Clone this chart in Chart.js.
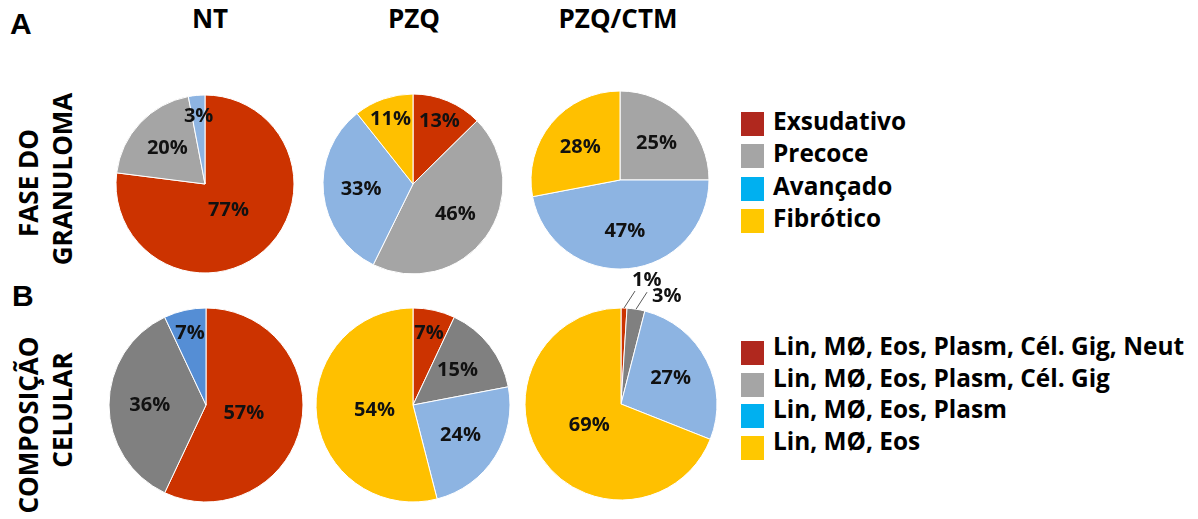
<!DOCTYPE html>
<html>
<head>
<meta charset="utf-8">
<script src="https://cdn.jsdelivr.net/npm/chart.js@4"></script>
<style>
    body { margin: 0; background: #fff; }
    #fig { position: relative; width: 1198px; height: 519px; overflow: hidden; font-family: "Open Sans", sans-serif; color: #000; }
    .abs { position: absolute; white-space: nowrap; }
    .letra { font-family: "Liberation Sans", Arial, sans-serif; font-weight: bold; font-size: 30px; line-height: 30px; }
    .titulo { font-weight: bold; font-size: 26px; line-height: 26px; transform: translateX(-50%); }
    .lado { font-weight: bold; font-size: 26px; line-height: 26px; transform: translate(-50%, -50%) rotate(-90deg); }
    .quadro { position: absolute; width: 23px; height: 24px; }
    .leg { font-weight: bold; font-size: 24.4px; line-height: 24px; }
    canvas { position: absolute; }
</style>
</head>
<body>
<div id="fig"></div>
<script>
// Colunas e categorias
var colunas = ['NT', 'PZQ', 'PZQ/CTM'];
var fases = ['Exsudativo', 'Precoce', 'Avançado', 'Fibrótico'];
var celulas = ['Lin, MØ, Eos, Plasm, Cél. Gig, Neut', 'Lin, MØ, Eos, Plasm, Cél. Gig', 'Lin, MØ, Eos, Plasm', 'Lin, MØ, Eos'];

// A - fase do granuloma (%)
var faseNT = [77, 20, 3, 0];
var fasePZQ = [13, 46, 33, 11];
var faseCTM = [0, 25, 47, 28];

// B - composição celular (%)
var celNT = [57, 36, 7, 0];
var celPZQ = [7, 15, 24, 54];
var celCTM = [1, 3, 27, 69];

// Cores
var coresA = ['#CC3300', '#A5A5A5', '#8DB4E2', '#FFC000'];
var coresB_NT = ['#CC3300', '#808080', '#558ED5', '#FFC000'];
var coresB = ['#CC3300', '#808080', '#8DB4E2', '#FFC000'];
var coresLegenda = ['#B0281E', '#A5A5A5', '#00B0F0', '#FFC800'];

var fig = document.getElementById('fig');

function addTexto(txt, cls, x, y) {
    var d = document.createElement('div');
    d.className = 'abs ' + cls;
    d.textContent = txt;
    d.style.left = x + 'px';
    d.style.top = y + 'px';
    fig.appendChild(d);
    return d;
}

// Letras e títulos
addTexto('A', 'letra', 10, 9);
addTexto('B', 'letra', 12, 281);
addTexto(colunas[0], 'titulo', 210, 5);
addTexto(colunas[1], 'titulo', 414, 5);
addTexto(colunas[2], 'titulo', 618, 5);

addTexto('FASE DO', 'lado', 28, 183);
addTexto('GRANULOMA', 'lado', 62, 179);
addTexto('COMPOSIÇÃO', 'lado', 28, 425);
addTexto('CELULAR', 'lado', 62, 410);

// Legendas
function addLegenda(nomes, topo, passo, desvioTexto) {
    for (var i = 0; i < nomes.length; i++) {
        var y = topo + i * passo;
        var q = document.createElement('div');
        q.className = 'quadro';
        q.style.left = '741px';
        q.style.top = y + 'px';
        q.style.background = coresLegenda[i];
        fig.appendChild(q);
        addTexto(nomes[i], 'leg', 773, y + desvioTexto);
    }
}
addLegenda(fases, 112, 32.3, -3);
addLegenda(celulas, 341, 31.7, -7);

// Plugin para os rótulos de porcentagem
var rotulosPlugin = {
    id: 'rotulos',
    afterDatasetsDraw: function(chart, args, opts) {
        var ctx = chart.ctx;
        var meta = chart.getDatasetMeta(0);
        var dados = chart.data.datasets[0].data;
        var nFora = 0;
        ctx.save();
        ctx.font = 'bold 20px "Open Sans"';
        ctx.fillStyle = '#111';
        ctx.textBaseline = 'middle';
        meta.data.forEach(function(arc, i) {
            var v = dados[i];
            if (!v) return;
            var p = arc.getProps(['x', 'y', 'startAngle', 'endAngle', 'outerRadius']);
            var meio = (p.startAngle + p.endAngle) / 2;
            var texto = v + '%';
            if (opts.fora && v < 5) {
                // rótulo fora com linha de chamada
                var ex = p.x + Math.cos(meio) * p.outerRadius;
                var ey = p.y + Math.sin(meio) * p.outerRadius;
                var fx = ex + 11, fy = ey - 17;
                ctx.strokeStyle = '#595959';
                ctx.lineWidth = 1;
                ctx.beginPath();
                ctx.moveTo(ex, ey);
                ctx.lineTo(fx, fy);
                ctx.stroke();
                var d = opts.desvios[nFora++];
                ctx.textAlign = 'left';
                ctx.fillText(texto, fx + d[0], fy + d[1]);
                return;
            }
            var f = v >= 50 ? 0.4 : (v >= 15 ? 0.58 : 0.76);
            ctx.textAlign = 'center';
            ctx.fillText(texto, p.x + Math.cos(meio) * p.outerRadius * f, p.y + Math.sin(meio) * p.outerRadius * f);
        });
        ctx.restore();
    }
};

function criarPizza(dados, cores, cx, cy, raio, fora) {
    var c = document.createElement('canvas');
    c.width = 300;
    c.height = 300;
    c.style.left = (cx - 150) + 'px';
    c.style.top = (cy - 150) + 'px';
    fig.appendChild(c);
    return new Chart(c.getContext('2d'), {
        type: 'pie',
        data: {
            labels: fases,
            datasets: [{
                data: dados,
                backgroundColor: cores,
                borderColor: '#ffffff',
                borderWidth: 1
            }]
        },
        options: {
            responsive: false,
            animation: false,
            radius: raio,
            layout: { padding: 0 },
            plugins: {
                legend: { display: false },
                tooltip: { enabled: false },
                rotulos: { fora: !!fora, desvios: [[-3, -11], [5, 4]] }
            }
        },
        plugins: [rotulosPlugin]
    });
}

criarPizza(faseNT, coresA, 205, 184, 89);
criarPizza(fasePZQ, coresA, 413, 184, 90);
criarPizza(faseCTM, coresA, 620, 180, 89);

criarPizza(celNT, coresB_NT, 206, 405, 97);
criarPizza(celPZQ, coresB, 413, 405, 97);
criarPizza(celCTM, coresB, 621, 404, 96, true);
</script>
</body>
</html>
